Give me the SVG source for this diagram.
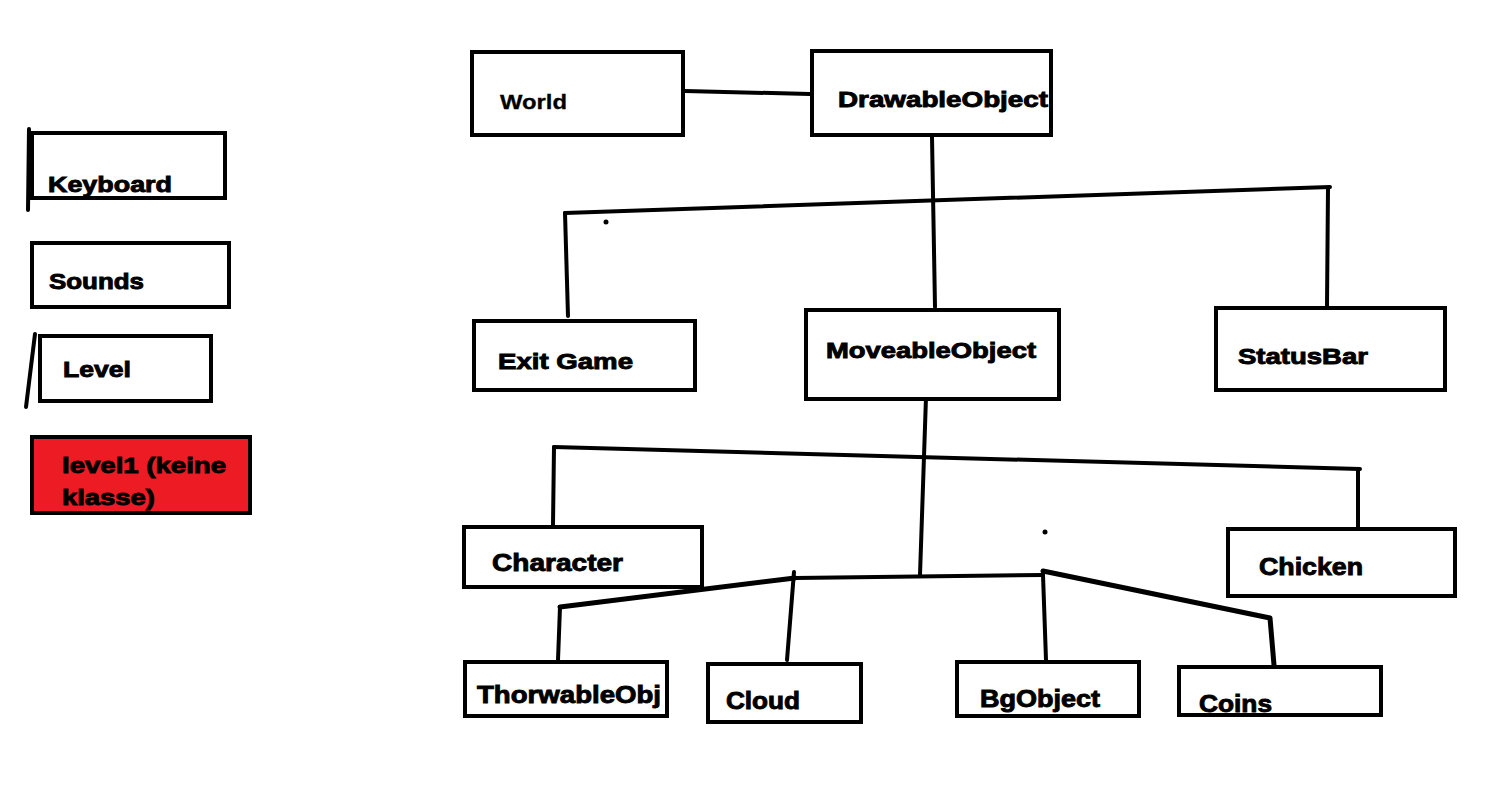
<svg xmlns="http://www.w3.org/2000/svg" width="1495" height="800" viewBox="0 0 1495 800">
<style>
.box{fill:#fff;stroke:#000;stroke-width:4}
.red{fill:#ED1C24;stroke:#000;stroke-width:4}
.t{font-family:"Liberation Sans",Arial,sans-serif;font-weight:bold;font-size:22px;fill:#000;stroke:#000;stroke-width:0.9}
.tb{font-size:24px}
.tl{font-family:"Liberation Sans",Arial,sans-serif;font-weight:bold;font-size:21px;fill:#000;stroke:#000;stroke-width:0.3}
.c{fill:none;stroke:#000;stroke-width:4;stroke-linecap:round;stroke-linejoin:round}
</style>
<rect width="1495" height="800" fill="#fff"/>
<g id="connectors">
<path class="c" d="M685 91 L810 94"/>
<path class="c" d="M932 137 L935 307"/>
<path class="c" d="M565 213 L1330 187"/>
<path class="c" d="M565 213 L568 316"/>
<path class="c" d="M1328 188 L1327 306"/>
<circle cx="606" cy="222" r="2.5"/>
<path class="c" d="M926 397 L920 575"/>
<path class="c" d="M554 447 L1360 469"/>
<path class="c" d="M554 447 L553 525"/>
<path class="c" d="M1358 469 L1358 527"/>
<circle cx="1045" cy="532" r="2.5"/>
<path class="c" d="M795 578 L1043 575"/>
<path class="c" style="stroke-width:5" d="M560 607 L795 578"/>
<path class="c" d="M560 607 L558 660"/>
<path class="c" d="M794 572 L787 660"/>
<path class="c" d="M1043 575 L1046 660"/>
<path class="c" style="stroke-width:5" d="M1043 571 L1270 618 L1274 665"/>
<path class="c" d="M29 129 L28 210"/>
<path class="c" d="M35 334 L26 407"/>
</g>
<g id="keyboard"><rect class="box" x="32" y="133" width="193" height="65"/><text class="t" x="48" y="192" textLength="124" lengthAdjust="spacingAndGlyphs">Keyboard</text></g>
<g id="sounds"><rect class="box" x="32" y="243" width="197" height="64"/><text class="t" x="49" y="289" textLength="95" lengthAdjust="spacingAndGlyphs">Sounds</text></g>
<g id="level"><rect class="box" x="40" y="336" width="171" height="65"/><text class="t" x="63" y="377" textLength="68" lengthAdjust="spacingAndGlyphs">Level</text></g>
<g id="level1"><rect class="red" x="32" y="437" width="218" height="76"/><text class="t" x="62" y="473" textLength="164" lengthAdjust="spacingAndGlyphs">level1 (keine</text><text class="t" x="62" y="505" textLength="93" lengthAdjust="spacingAndGlyphs">klasse)</text></g>
<g id="world"><rect class="box" x="472" y="52" width="211" height="83"/><text class="tl" x="500" y="109" textLength="67" lengthAdjust="spacingAndGlyphs">World</text></g>
<g id="drawableobject"><rect class="box" x="812" y="51" width="239" height="84"/><text class="t" x="838" y="107" textLength="210" lengthAdjust="spacingAndGlyphs">DrawableObject</text></g>
<g id="exitgame"><rect class="box" x="474" y="321" width="221" height="69"/><text class="t" x="498" y="369" textLength="135" lengthAdjust="spacingAndGlyphs">Exit Game</text></g>
<g id="moveableobject"><rect class="box" x="806" y="310" width="253" height="89"/><text class="t" x="826" y="358" textLength="210" lengthAdjust="spacingAndGlyphs">MoveableObject</text></g>
<g id="statusbar"><rect class="box" x="1216" y="308" width="229" height="82"/><text class="t" x="1238" y="364" textLength="130" lengthAdjust="spacingAndGlyphs">StatusBar</text></g>
<g id="character"><rect class="box" x="464" y="527" width="238" height="60"/><text class="t tb" x="492" y="571" textLength="131" lengthAdjust="spacingAndGlyphs">Character</text></g>
<g id="chicken"><rect class="box" x="1228" y="529" width="227" height="67"/><text class="t tb" x="1259" y="575" textLength="104" lengthAdjust="spacingAndGlyphs">Chicken</text></g>
<g id="thorwableobj"><rect class="box" x="465" y="662" width="202" height="54"/><text class="t tb" x="477" y="703" textLength="184" lengthAdjust="spacingAndGlyphs">ThorwableObj</text></g>
<g id="cloud"><rect class="box" x="708" y="664" width="153" height="58"/><text class="t tb" x="726" y="709" textLength="74" lengthAdjust="spacingAndGlyphs">Cloud</text></g>
<g id="bgobject"><rect class="box" x="957" y="662" width="182" height="54"/><text class="t tb" x="980" y="707" textLength="120" lengthAdjust="spacingAndGlyphs">BgObject</text></g>
<g id="coins"><rect class="box" x="1179" y="667" width="202" height="48"/><text class="t tb" x="1199" y="712" textLength="73" lengthAdjust="spacingAndGlyphs">Coins</text></g>
</svg>
